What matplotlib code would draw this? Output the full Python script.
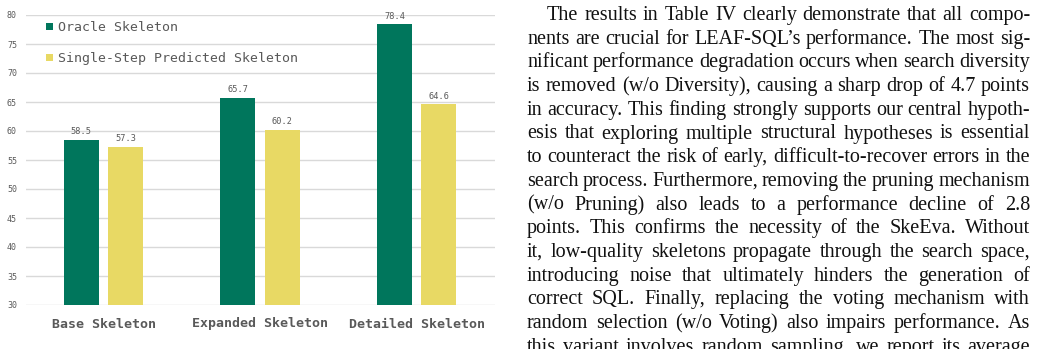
import matplotlib
matplotlib.use("Agg")
import matplotlib.pyplot as plt
import numpy as np

# chart data
categories = ["Base Skeleton", "Expanded Skeleton", "Detailed Skeleton"]
series_names = ["Oracle Skeleton", "Single-Step Predicted Skeleton"]
oracle = [58.5, 65.7, 78.4]
single_step = [57.3, 60.2, 64.6]
y_ticks = [30, 35, 40, 45, 50, 55, 60, 65, 70, 75, 80]

# paragraph next to the chart (one entry per typeset line)
paragraph_lines = [
    "The results in Table IV clearly demonstrate that all compo-",
    "nents are crucial for LEAF-SQL\u2019s performance. The most sig-",
    "nificant performance degradation occurs when search diversity",
    "is removed (w/o Diversity), causing a sharp drop of 4.7 points",
    "in accuracy. This finding strongly supports our central hypoth-",
    "esis that exploring multiple structural hypotheses is essential",
    "to counteract the risk of early, difficult-to-recover errors in the",
    "search process. Furthermore, removing the pruning mechanism",
    "(w/o Pruning) also leads to a performance decline of 2.8",
    "points. This confirms the necessity of the SkeEva. Without",
    "it, low-quality skeletons propagate through the search space,",
    "introducing noise that ultimately hinders the generation of",
    "correct SQL. Finally, replacing the voting mechanism with",
    "random selection (w/o Voting) also impairs performance. As",
    "this variant involves random sampling, we report its average",
]

GREEN = "#00765C"
YELLOW = "#E8D964"
GRID = "#D9D9D9"
MONO = "DejaVu Sans Mono"

W, H = 1037, 349
fig = plt.figure(figsize=(W / 100, H / 100), dpi=100)
ax = fig.add_axes([26 / W, 1 - 305 / H, 469 / W, 290 / H])

x = np.arange(len(categories))
bw = 0.224
off = 0.142
b1 = ax.bar(x - off, np.array(oracle) - 30, bw, bottom=30, color=GREEN,
            linewidth=0, label=series_names[0], zorder=3)
b2 = ax.bar(x + off, np.array(single_step) - 30, bw, bottom=30, color=YELLOW,
            linewidth=0, label=series_names[1], zorder=3)

for bars, vals in [(b1, oracle), (b2, single_step)]:
    for rect, v in zip(bars, vals):
        ax.annotate(f"{v:.1f}", (rect.get_x() + rect.get_width() / 2, v),
                    xytext=(0, 2.5), textcoords="offset points",
                    ha="center", va="bottom", fontsize=6.2,
                    family=MONO, color="#595959", annotation_clip=False)

ax.set_xlim(-0.495, 2.5)
ax.set_ylim(30, 80)
ax.set_yticks(y_ticks)
ax.set_yticklabels([str(t) for t in y_ticks], family=MONO, fontsize=6,
                   color="#595959")
ax.set_xticks(x)
ax.set_xticklabels(categories, family=MONO, fontsize=9.5, fontweight="bold",
                   color="#595959")
ax.tick_params(axis="y", length=0, pad=6.5)
ax.tick_params(axis="x", length=0, pad=9)
ax.grid(axis="y", color=GRID, linewidth=1, zorder=0)
for s in ax.spines.values():
    s.set_visible(False)

leg = ax.legend(loc="upper left", bbox_to_anchor=(0.043, 0.978), frameon=False,
                prop={"family": MONO, "size": 9.5}, handlelength=0.5,
                handleheight=0.5, handletextpad=0.4, labelspacing=1.35,
                borderpad=0, borderaxespad=0)
for t in leg.get_texts():
    t.set_color("#595959")

# justified paragraph, placed word by word
renderer = fig.canvas.get_renderer()
left_px, right_px, indent_px = 527, 1030, 20
base0, lead = 20, 23.7
font = dict(family="Liberation Serif", size=14.5, color="#111111")
for i, line in enumerate(paragraph_lines):
    words = line.split(" ")
    y = 1 - (base0 + i * lead) / H
    start = left_px + (indent_px if i == 0 else 0)
    texts = [fig.text(0, y, w, va="baseline", ha="left", **font) for w in words]
    widths = [t.get_window_extent(renderer).width for t in texts]
    gap = (right_px - start - sum(widths)) / max(len(words) - 1, 1)
    pos = start
    for t, w in zip(texts, widths):
        t.set_x(pos / W)
        pos += w + gap

fig.savefig("out.png", dpi=100)
